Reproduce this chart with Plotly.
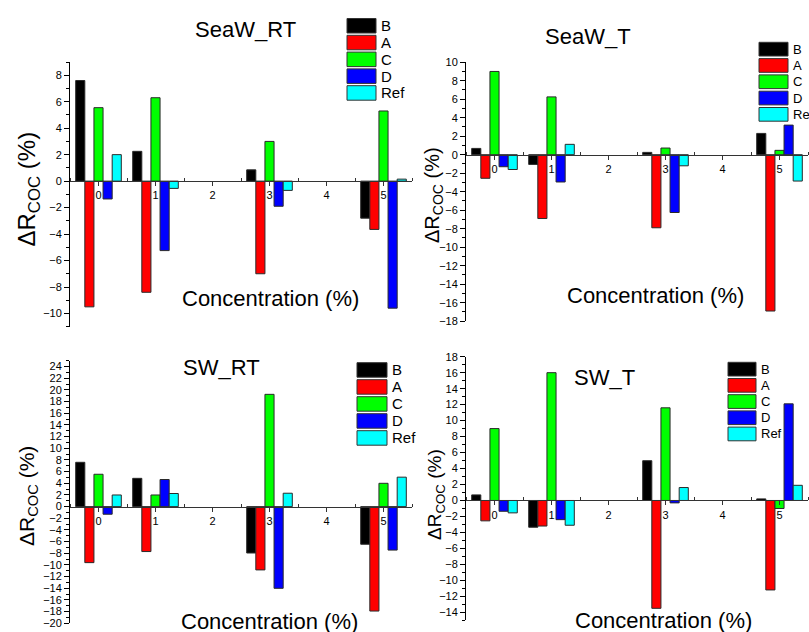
import plotly.graph_objects as go

W, H = 809, 632

# ---------------- data ----------------
categories = [0, 1, 3, 5]
series_names = ["B", "A", "C", "D", "Ref"]
series_colors = ["#000000", "#ff0000", "#00ff00", "#0000ff", "#00ffff"]
x_tick_values = [0, 1, 2, 3, 4, 5]

# SeaW_RT
seaw_rt_B = [7.6, 2.25, 0.85, -2.8]
seaw_rt_A = [-9.5, -8.4, -7.0, -3.65]
seaw_rt_C = [5.55, 6.3, 3.0, 5.3]
seaw_rt_D = [-1.35, -5.25, -1.9, -9.6]
seaw_rt_Ref = [2.0, -0.55, -0.7, 0.15]

# SeaW_T
seaw_t_B = [0.68, -1.05, 0.25, 2.3]
seaw_t_A = [-2.55, -6.9, -7.9, -16.9]
seaw_t_C = [9.0, 6.25, 0.72, 0.47]
seaw_t_D = [-1.3, -2.95, -6.25, 3.2]
seaw_t_Ref = [-1.6, 1.12, -1.2, -2.85]

# SW_RT
sw_rt_B = [7.6, 4.85, -7.95, -6.45]
sw_rt_A = [-9.6, -7.7, -10.85, -17.9]
sw_rt_C = [5.55, 2.0, 19.25, 4.0]
sw_rt_D = [-1.3, 4.65, -14.0, -7.45]
sw_rt_Ref = [2.0, 2.25, 2.3, 5.05]

# SW_T
sw_t_B = [0.7, -3.35, 4.98, 0.2]
sw_t_A = [-2.55, -3.2, -13.5, -11.2]
sw_t_C = [9.0, 16.0, 11.6, -1.0]
sw_t_D = [-1.35, -2.4, -0.3, 12.1]
sw_t_Ref = [-1.55, -3.1, 1.62, 1.9]

panel_titles = ["SeaW_RT", "SeaW_T", "SW_RT", "SW_T"]
panel_series = [
    [seaw_rt_B, seaw_rt_A, seaw_rt_C, seaw_rt_D, seaw_rt_Ref],
    [seaw_t_B, seaw_t_A, seaw_t_C, seaw_t_D, seaw_t_Ref],
    [sw_rt_B, sw_rt_A, sw_rt_C, sw_rt_D, sw_rt_Ref],
    [sw_t_B, sw_t_A, sw_t_C, sw_t_D, sw_t_Ref],
]
y_ranges = [(-11, 9), (-18, 10), (-20, 25), (-15, 18)]
x_range = (-0.5, 5.5)
x_title = "Concentration (%)"
y_title = "ΔR<sub>COC</sub> (%)"

# ---------------- layout geometry (pixels) ----------------
geo = [
    dict(xpx=(70, 412), ypx=(62, 326.7), title=(245, 29), xt=(270, 298), yt=(27.5, 189, 24),
         leg=dict(sx=(347, 376), top=18.5, pitch=16.8, h=14.5, tx=379, fs=15)),
    dict(xpx=(466, 808), ypx=(62.2, 321.2), title=(588, 37), xt=(655, 295), yt=(433, 195, 20),
         leg=dict(sx=(759, 788), top=42.3, pitch=16.3, h=13.7, tx=791, fs=13)),
    dict(xpx=(70, 412), ypx=(360.8, 623.3), title=(221, 367), xt=(269, 621), yt=(28, 496, 21),
         leg=dict(sx=(357, 387), top=362.7, pitch=17.0, h=14.5, tx=390, fs=15)),
    dict(xpx=(466, 808), ypx=(356.7, 620.3), title=(604, 377), xt=(663, 620), yt=(436, 494, 19),
         leg=dict(sx=(728, 756), top=362.3, pitch=16.2, h=13.7, tx=759, fs=13)),
]

FONT = "Liberation Sans, Arial, sans-serif"

def px_x(px):
    return px / W

def px_y(py):
    return 1 - py / H

fig = go.Figure()
layout = dict(
    width=W, height=H, autosize=False, template="none",
    margin=dict(l=0, r=0, t=0, b=0, pad=0),
    paper_bgcolor="white", plot_bgcolor="rgba(0,0,0,0)",
    barmode="group", bargap=0.2, bargroupgap=0.0,
    showlegend=False, font=dict(family=FONT, color="black"),
)
annotations = []
shapes = []

for i, (title, series, yr, g) in enumerate(zip(panel_titles, panel_series, y_ranges, geo)):
    n = i + 1
    xa = "x" if n == 1 else f"x{n}"
    ya = "y" if n == 1 else f"y{n}"
    for name, color, vals in zip(series_names, series_colors, series):
        fig.add_trace(go.Bar(
            x=categories, y=vals, name=name, xaxis=xa, yaxis=ya,
            marker=dict(color=color, line=dict(color="#2a2a2a", width=1)),
            showlegend=False,
        ))
    yd = [px_y(g["ypx"][1]), px_y(g["ypx"][0])]
    zero_pos = yd[0] + (0 - yr[0]) / (yr[1] - yr[0]) * (yd[1] - yd[0])
    layout[f"xaxis{'' if n == 1 else n}"] = dict(
        domain=[px_x(g["xpx"][0]), px_x(g["xpx"][1])], range=list(x_range),
        anchor="free", position=zero_pos, automargin=False,
        showline=True, linecolor="#333333", linewidth=1,
        showgrid=False, zeroline=False,
        tickmode="array", tickvals=x_tick_values,
        ticktext=[str(v) for v in x_tick_values],
        ticks="outside", ticklen=4, tickwidth=1, tickcolor="#333333",
        tickfont=dict(size=11, family=FONT, color="black"),
        minor=dict(tickmode="linear", tick0=0.5, dtick=1, ticks="inside", ticklen=3,
                   tickcolor="#333333", showgrid=False),
    )
    layout[f"yaxis{'' if n == 1 else n}"] = dict(
        domain=yd, range=list(yr), anchor=xa, automargin=False,
        showline=True, linecolor="black", linewidth=1,
        showgrid=False, zeroline=False,
        tickmode="linear", tick0=0, dtick=2,
        ticks="outside", ticklen=5, tickwidth=1, tickcolor="black",
        tickfont=dict(size=11, family=FONT, color="black"),
        minor=dict(tickmode="linear", tick0=1, dtick=2, ticks="outside", ticklen=3,
                   tickcolor="black", showgrid=False),
    )
    # titles
    annotations.append(dict(text=title, x=px_x(g["title"][0]), y=px_y(g["title"][1]),
                            xref="paper", yref="paper", showarrow=False,
                            xanchor="center", yanchor="middle",
                            font=dict(size=22, family=FONT, color="black")))
    annotations.append(dict(text=x_title, x=px_x(g["xt"][0]), y=px_y(g["xt"][1]),
                            xref="paper", yref="paper", showarrow=False,
                            xanchor="center", yanchor="middle",
                            font=dict(size=22, family=FONT, color="black")))
    annotations.append(dict(text=y_title, x=px_x(g["yt"][0]), y=px_y(g["yt"][1]),
                            xref="paper", yref="paper", showarrow=False, textangle=-90,
                            xanchor="center", yanchor="middle",
                            font=dict(size=g["yt"][2], family=FONT, color="black")))
    # legend (swatches + labels)
    lg = g["leg"]
    for k, (name, color) in enumerate(zip(series_names, series_colors)):
        top = lg["top"] + k * lg["pitch"]
        shapes.append(dict(type="rect", xref="paper", yref="paper",
                           x0=px_x(lg["sx"][0]), x1=px_x(lg["sx"][1]),
                           y0=px_y(top + lg["h"]), y1=px_y(top),
                           fillcolor=color, line=dict(color="#333333", width=1), layer="above"))
        annotations.append(dict(text=name, x=px_x(lg["tx"]), y=px_y(top + lg["h"] / 2),
                                xref="paper", yref="paper", showarrow=False,
                                xanchor="left", yanchor="middle",
                                font=dict(size=lg["fs"], family=FONT, color="black")))

layout["annotations"] = annotations
layout["shapes"] = shapes
fig.update_layout(**layout)
fig.write_html("out.html")
